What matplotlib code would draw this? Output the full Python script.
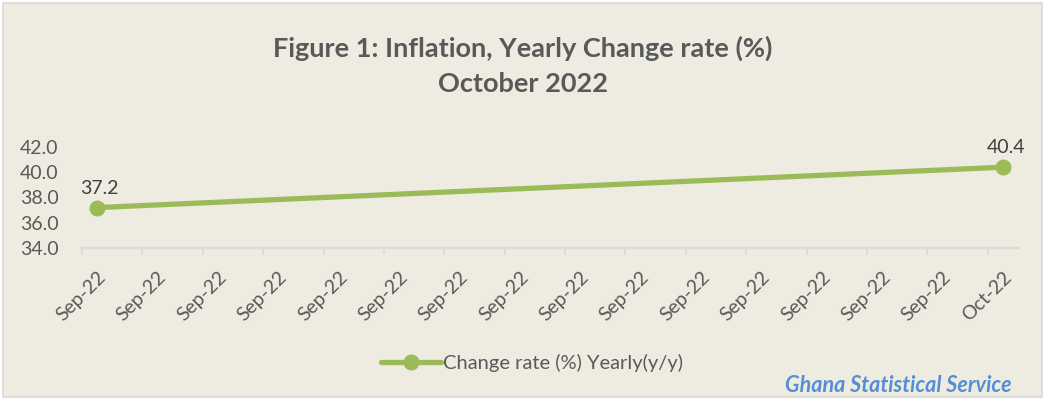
import datetime as dt
import matplotlib
matplotlib.use("Agg")
import matplotlib.pyplot as plt
import matplotlib.dates as mdates
import matplotlib.transforms as mtransforms
from matplotlib.patches import Rectangle

plt.rcParams['font.family'] = ['Lato', 'DejaVu Sans']

# Data
dates = [dt.datetime(2022, 9, 1), dt.datetime(2022, 10, 1)]
values = [37.2, 40.4]
series_name = 'Change rate (%) Yearly(y/y)'
title = 'Figure 1: Inflation, Yearly Change rate (%)\nOctober 2022'
source = 'Ghana Statistical Service'
y_ticks = [34.0, 36.0, 38.0, 40.0, 42.0]

bg = '#EEECE1'
green = '#9BBB59'
grey_txt = '#595959'
axis_grey = '#D9D9D9'

fig = plt.figure(figsize=(10.45, 4.0), dpi=100, facecolor='white')
fig.patches.append(Rectangle((0.003, 0.008), 0.994, 0.984, transform=fig.transFigure,
                             facecolor=bg, edgecolor=axis_grey, linewidth=1.2, zorder=-10))

ax = fig.add_axes([82 / 1045, 1 - 248 / 400, (1018 - 82) / 1045, 101 / 400])
ax.set_facecolor('none')

# Excel date axis: points sit in the middle of their day slot
half_day = dt.timedelta(hours=12)
x = [d + half_day for d in dates]
line, = ax.plot(x, values, color=green, linewidth=3.8, marker='o', markersize=10.5,
                solid_capstyle='round', label=series_name, clip_on=False)

for xi, v in zip(x, values):
    ax.annotate(f'{v:.1f}', (xi, v), xytext=(2, 14), textcoords='offset points',
                ha='center', va='center', fontsize=14, color='#404040')

ax.set_xlim(dates[0], dates[-1] + dt.timedelta(days=1))
ax.set_ylim(y_ticks[0], y_ticks[-1])
ax.set_yticks(y_ticks)
ax.yaxis.set_major_formatter(matplotlib.ticker.FormatStrFormatter('%.1f'))

ax.xaxis.set_major_locator(mdates.DayLocator(bymonthday=range(1, 32, 2)))
ax.xaxis.set_major_formatter(mdates.DateFormatter('%b-%y'))

for s in ['top', 'right', 'left']:
    ax.spines[s].set_visible(False)
ax.spines['bottom'].set_color(axis_grey)
ax.spines['bottom'].set_linewidth(1.6)

ax.tick_params(axis='y', length=0, pad=17, labelsize=14, labelcolor=grey_txt)
ax.tick_params(axis='x', length=5, width=1.2, color=axis_grey, direction='out',
               pad=14, labelsize=14, labelcolor=grey_txt)
shift = mtransforms.ScaledTranslation(21 / 100, 0, fig.dpi_scale_trans)
for lab in ax.get_xticklabels():
    lab.set_rotation(45)
    lab.set_rotation_mode('anchor')
    lab.set_ha('right')
    lab.set_va('center')
    lab.set_transform(lab.get_transform() + shift)

fig.text(0.5, 1 - 66 / 400, title, ha='center', va='center', fontsize=19.5,
         fontweight='bold', color=grey_txt, linespacing=1.55)

fig.legend(handles=[line], loc='center', bbox_to_anchor=(532 / 1045, 1 - 363 / 400),
           frameon=False, fontsize=14.5, handlelength=3.0, handletextpad=0.1,
           labelcolor=grey_txt)

fig.text(1012 / 1045, 1 - 385 / 400, source, ha='right', va='center', fontsize=15.5,
         fontweight='bold', fontstyle='italic', color='#558ED5')

fig.savefig('out.png', dpi=100, facecolor=fig.get_facecolor())
